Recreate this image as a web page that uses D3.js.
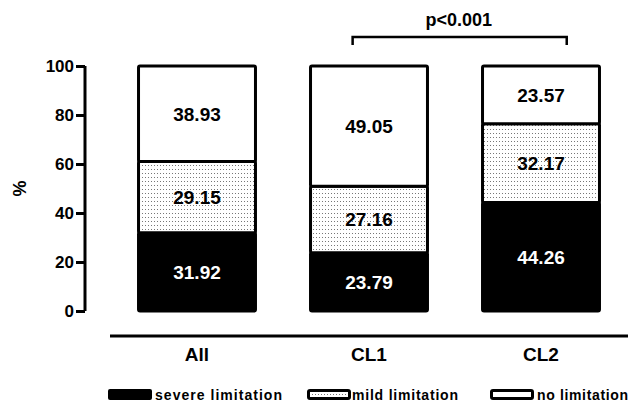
<!DOCTYPE html>
<html>
<head>
<meta charset="utf-8">
<script src="https://cdn.jsdelivr.net/npm/d3@7"></script>
<style>
  html, body { margin: 0; padding: 0; background: #fff; }
  svg { display: block; font-family: "Liberation Sans", Arial, sans-serif; font-weight: bold; }
</style>
</head>
<body>
<svg id="chart" width="630" height="403"></svg>
<script>
const categories = ["All", "CL1", "CL2"];
const seriesNames = ["severe limitation", "mild limitation", "no limitation"];
const severe = [31.92, 23.79, 44.26];
const mild = [29.15, 27.16, 32.17];
const none = [38.93, 49.05, 23.57];
const yTicks = [0, 20, 40, 60, 80, 100];
const pLabel = "p<0.001";
const pPair = ["CL1", "CL2"];

const svg = d3.select("#chart");
const defs = svg.append("defs");
const pat = defs.append("pattern").attr("id", "dots")
  .attr("patternUnits", "userSpaceOnUse").attr("width", 3).attr("height", 4);
pat.append("rect").attr("width", 3).attr("height", 4).attr("fill", "#fff");
pat.append("rect").attr("x", 1).attr("y", 1).attr("width", 1).attr("height", 1).attr("fill", "#777");

const y = d3.scaleLinear().domain([0, 100]).range([311, 66]);
const x = d3.scaleBand().domain(categories).range([111, 627]).paddingInner(0.32).paddingOuter(0.16);

// y axis
const yAxis = svg.append("g").attr("transform", "translate(85,0)")
  .call(d3.axisLeft(y).tickValues(yTicks).tickSize(9).tickPadding(2));
yAxis.select(".domain").attr("stroke", "#000").attr("stroke-width", 3)
  .attr("d", `M0,${y(100)}V${y(0)}`);
yAxis.selectAll(".tick line").attr("stroke", "#000").attr("stroke-width", 3);
yAxis.selectAll(".tick text").attr("fill", "#000").style("font-size", "17px")
  .style("font-weight", "bold").style("font-family", "'Liberation Sans', Arial, sans-serif");

svg.append("text").attr("transform", `translate(26,${(y(0)+y(100))/2}) rotate(-90)`)
  .attr("text-anchor", "middle").style("font-size", "18px").text("%");

// x axis
const xAxis = svg.append("g").attr("transform", "translate(0,336)")
  .call(d3.axisBottom(x).tickSize(0).tickPadding(12));
xAxis.select(".domain").attr("stroke", "#000").attr("stroke-width", 3)
  .attr("d", "M110,0H628");
xAxis.selectAll(".tick text").attr("fill", "#000").style("font-size", "19px")
  .style("font-weight", "bold").style("font-family", "'Liberation Sans', Arial, sans-serif")
  .attr("dy", "0.71em");

// stacked data
const rows = categories.map((c, i) => ({ cat: c, severe: severe[i], mild: mild[i], none: none[i] }));
const stack = d3.stack().keys(["severe", "mild", "none"])(rows);
const fills = { severe: "#000", mild: "url(#dots)", none: "#fff" };
const textFill = { severe: "#fff", mild: "#000", none: "#000" };

const layers = svg.append("g").selectAll("g").data(stack).join("g");
layers.selectAll("rect").data(d => d.map(p => ({ key: d.key, p }))).join("rect")
  .attr("x", d => x(d.p.data.cat))
  .attr("width", x.bandwidth())
  .attr("y", d => y(d.p[1]))
  .attr("height", d => y(d.p[0]) - y(d.p[1]))
  .attr("fill", d => fills[d.key])
  .attr("stroke", "#000").attr("stroke-width", 3).attr("rx", 1.5);

layers.selectAll("text").data(d => d.map(p => ({ key: d.key, p }))).join("text")
  .attr("x", d => x(d.p.data.cat) + x.bandwidth() / 2)
  .attr("y", d => (y(d.p[0]) + y(d.p[1])) / 2)
  .attr("dy", "0.36em")
  .attr("text-anchor", "middle")
  .attr("fill", d => textFill[d.key])
  .style("font-size", "19px")
  .text(d => (d.p[1] - d.p[0]).toFixed(2));

// significance bracket
const bx1 = x(pPair[0]) + x.bandwidth() * 0.36;
const bx2 = x(pPair[1]) + x.bandwidth() * 0.72;
svg.append("path").attr("d", `M${bx1},45V37H${bx2}V45`)
  .attr("fill", "none").attr("stroke", "#000").attr("stroke-width", 2.5);
svg.append("text").attr("x", (bx1 + bx2) / 2 - 1).attr("y", 26).attr("text-anchor", "middle")
  .style("font-size", "18px").text(pLabel);

// legend
const legendItems = [
  { name: seriesNames[0], key: "severe", sx: 108, tx: 155, tw: 127 },
  { name: seriesNames[1], key: "mild", sx: 307, tx: 352, tw: 106 },
  { name: seriesNames[2], key: "none", sx: 490, tx: 537, tw: 91 }
];
const lg = svg.append("g");
legendItems.forEach(it => {
  if (it.key === "severe") {
    lg.append("rect").attr("x", it.sx).attr("y", 389).attr("width", 44).attr("height", 11)
      .attr("rx", 2).attr("fill", "#000");
  } else {
    lg.append("rect").attr("x", it.sx + 1.5).attr("y", 390.5).attr("width", 41).attr("height", 8)
      .attr("rx", 1.5).attr("fill", "#fff").attr("stroke", "#000").attr("stroke-width", 3);
    if (it.key === "mild") {
      lg.append("line").attr("x1", it.sx + 5).attr("x2", it.sx + 39).attr("y1", 394.5).attr("y2", 394.5)
        .attr("stroke", "#777").attr("stroke-width", 1).attr("stroke-dasharray", "1,2");
    }
  }
  lg.append("text").attr("x", it.tx).attr("y", 400)
    .attr("textLength", it.tw).attr("lengthAdjust", "spacing")
    .style("font-size", "14px").text(it.name);
});
</script>
</body>
</html>
